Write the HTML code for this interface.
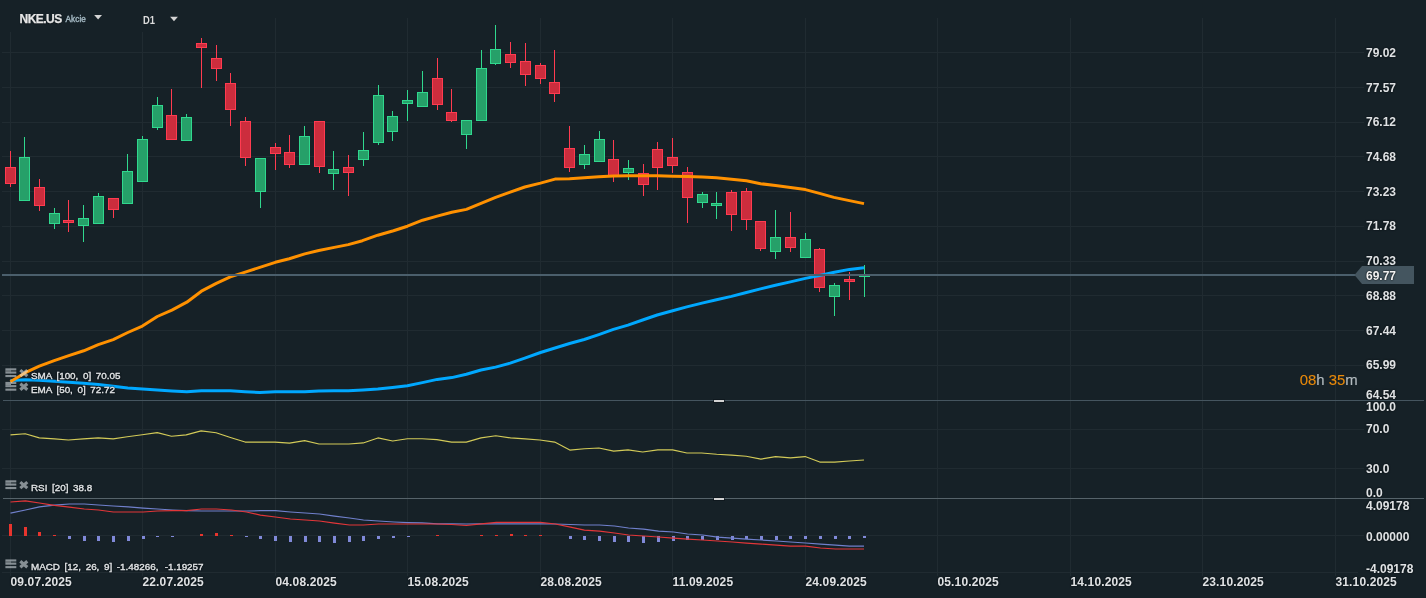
<!DOCTYPE html>
<html lang="cs"><head><meta charset="utf-8"><title>NKE.US</title><style>
html,body{margin:0;padding:0;background:#162127;}
#c{position:relative;width:1426px;height:598px;overflow:hidden;background:#162127;font-family:"Liberation Sans",sans-serif;}
.t{position:absolute;white-space:pre;color:#dfe2e4;}
.ax{font-size:12px;line-height:14px;font-weight:bold;text-shadow:0 0 2px #0c1216,0 0 1px #0c1216;}
.w{color:#f2f2f2;}
.dt{letter-spacing:0.13px;}
.lg{font-size:9.85px;line-height:12px;word-spacing:1.9px;color:#e2e5e7;text-shadow:0 0 2px #0c1216,0 0 1px #0c1216,0 0 2px #0c1216;-webkit-text-stroke:0.35px #e2e5e7;}
.sym{font-size:12px;line-height:14px;font-weight:bold;letter-spacing:-0.55px;color:#e6e6e6;-webkit-text-stroke:0.25px #e6e6e6;text-shadow:0 1px 1px #0c1216;}
.ak{font-size:8.2px;line-height:10px;color:#9db1bb;-webkit-text-stroke:0.45px #9db1bb;letter-spacing:0.05px;}
.d1{font-size:10.1px;line-height:12px;font-weight:bold;color:#dcdcdc;transform:scaleX(0.93);transform-origin:0 0;}
.tm{font-size:14.9px;line-height:16px;color:#b4bcc0;-webkit-text-stroke-width:0.12px;}
</style></head><body><div id="c">
<svg width="1426" height="598" viewBox="0 0 1426 598" style="position:absolute;left:0;top:0">
<rect width="1426" height="598" fill="#162127"/>
<g fill="#202b31" shape-rendering="crispEdges">
<rect x="10" y="32" width="1" height="544"/>
<rect x="142" y="32" width="1" height="544"/>
<rect x="275" y="18" width="1" height="558"/>
<rect x="407" y="18" width="1" height="558"/>
<rect x="540" y="18" width="1" height="558"/>
<rect x="672" y="18" width="1" height="558"/>
<rect x="805" y="18" width="1" height="558"/>
<rect x="937" y="18" width="1" height="558"/>
<rect x="1070" y="18" width="1" height="558"/>
<rect x="1202" y="18" width="1" height="558"/>
<rect x="1335" y="18" width="1" height="558"/>
<rect x="2" y="52" width="1362" height="1"/>
<rect x="2" y="87" width="1362" height="1"/>
<rect x="2" y="122" width="1362" height="1"/>
<rect x="2" y="156" width="1362" height="1"/>
<rect x="2" y="191" width="1362" height="1"/>
<rect x="2" y="226" width="1362" height="1"/>
<rect x="2" y="261" width="1362" height="1"/>
<rect x="2" y="295" width="1362" height="1"/>
<rect x="2" y="330" width="1362" height="1"/>
<rect x="2" y="365" width="1362" height="1"/>
<rect x="2" y="429" width="1362" height="1"/>
<rect x="2" y="468" width="1362" height="1"/>
<rect x="2" y="535" width="1362" height="1"/>
<rect x="2" y="572" width="1356" height="1"/>
</g>
<g shape-rendering="crispEdges">
<rect x="10" y="151" width="1" height="36" fill="#ff3b50"/>
<rect x="5" y="167" width="11" height="17" fill="#ff3b50"/>
<rect x="6" y="168" width="9" height="15" fill="#cc2d3d"/>
<rect x="24" y="137" width="1" height="64" fill="#30d88e"/>
<rect x="19" y="157" width="11" height="44" fill="#30d88e"/>
<rect x="20" y="158" width="9" height="42" fill="#26a069"/>
<rect x="39" y="179" width="1" height="32" fill="#ff3b50"/>
<rect x="34" y="187" width="11" height="19" fill="#ff3b50"/>
<rect x="35" y="188" width="9" height="17" fill="#cc2d3d"/>
<rect x="54" y="208" width="1" height="21" fill="#30d88e"/>
<rect x="49" y="213" width="11" height="11" fill="#30d88e"/>
<rect x="50" y="214" width="9" height="9" fill="#26a069"/>
<rect x="68" y="200" width="1" height="32" fill="#ff3b50"/>
<rect x="63" y="220" width="11" height="3" fill="#ff3b50"/>
<rect x="64" y="221" width="9" height="1" fill="#cc2d3d"/>
<rect x="83" y="205" width="1" height="37" fill="#30d88e"/>
<rect x="78" y="218" width="11" height="8" fill="#30d88e"/>
<rect x="79" y="219" width="9" height="6" fill="#26a069"/>
<rect x="98" y="193" width="1" height="31" fill="#30d88e"/>
<rect x="93" y="196" width="11" height="28" fill="#30d88e"/>
<rect x="94" y="197" width="9" height="26" fill="#26a069"/>
<rect x="113" y="198" width="1" height="20" fill="#ff3b50"/>
<rect x="108" y="198" width="11" height="12" fill="#ff3b50"/>
<rect x="109" y="199" width="9" height="10" fill="#cc2d3d"/>
<rect x="127" y="154" width="1" height="50" fill="#30d88e"/>
<rect x="122" y="171" width="11" height="33" fill="#30d88e"/>
<rect x="123" y="172" width="9" height="31" fill="#26a069"/>
<rect x="142" y="136" width="1" height="46" fill="#30d88e"/>
<rect x="137" y="139" width="11" height="43" fill="#30d88e"/>
<rect x="138" y="140" width="9" height="41" fill="#26a069"/>
<rect x="157" y="97" width="1" height="33" fill="#30d88e"/>
<rect x="152" y="105" width="11" height="23" fill="#30d88e"/>
<rect x="153" y="106" width="9" height="21" fill="#26a069"/>
<rect x="171" y="89" width="1" height="51" fill="#ff3b50"/>
<rect x="166" y="115" width="11" height="25" fill="#ff3b50"/>
<rect x="167" y="116" width="9" height="23" fill="#cc2d3d"/>
<rect x="186" y="114" width="1" height="27" fill="#30d88e"/>
<rect x="181" y="117" width="11" height="24" fill="#30d88e"/>
<rect x="182" y="118" width="9" height="22" fill="#26a069"/>
<rect x="201" y="38" width="1" height="50" fill="#ff3b50"/>
<rect x="196" y="43" width="11" height="5" fill="#ff3b50"/>
<rect x="197" y="44" width="9" height="3" fill="#cc2d3d"/>
<rect x="216" y="45" width="1" height="36" fill="#ff3b50"/>
<rect x="211" y="58" width="11" height="11" fill="#ff3b50"/>
<rect x="212" y="59" width="9" height="9" fill="#cc2d3d"/>
<rect x="230" y="73" width="1" height="53" fill="#ff3b50"/>
<rect x="225" y="83" width="11" height="27" fill="#ff3b50"/>
<rect x="226" y="84" width="9" height="25" fill="#cc2d3d"/>
<rect x="245" y="117" width="1" height="49" fill="#ff3b50"/>
<rect x="240" y="121" width="11" height="37" fill="#ff3b50"/>
<rect x="241" y="122" width="9" height="35" fill="#cc2d3d"/>
<rect x="260" y="158" width="1" height="50" fill="#30d88e"/>
<rect x="255" y="158" width="11" height="34" fill="#30d88e"/>
<rect x="256" y="159" width="9" height="32" fill="#26a069"/>
<rect x="275" y="143" width="1" height="27" fill="#ff3b50"/>
<rect x="270" y="147" width="11" height="7" fill="#ff3b50"/>
<rect x="271" y="148" width="9" height="5" fill="#cc2d3d"/>
<rect x="289" y="135" width="1" height="33" fill="#ff3b50"/>
<rect x="284" y="152" width="11" height="13" fill="#ff3b50"/>
<rect x="285" y="153" width="9" height="11" fill="#cc2d3d"/>
<rect x="304" y="126" width="1" height="39" fill="#30d88e"/>
<rect x="299" y="136" width="11" height="29" fill="#30d88e"/>
<rect x="300" y="137" width="9" height="27" fill="#26a069"/>
<rect x="319" y="121" width="1" height="52" fill="#ff3b50"/>
<rect x="314" y="121" width="11" height="46" fill="#ff3b50"/>
<rect x="315" y="122" width="9" height="44" fill="#cc2d3d"/>
<rect x="333" y="151" width="1" height="39" fill="#30d88e"/>
<rect x="328" y="169" width="11" height="5" fill="#30d88e"/>
<rect x="329" y="170" width="9" height="3" fill="#26a069"/>
<rect x="348" y="155" width="1" height="41" fill="#ff3b50"/>
<rect x="343" y="167" width="11" height="6" fill="#ff3b50"/>
<rect x="344" y="168" width="9" height="4" fill="#cc2d3d"/>
<rect x="363" y="132" width="1" height="34" fill="#30d88e"/>
<rect x="358" y="150" width="11" height="10" fill="#30d88e"/>
<rect x="359" y="151" width="9" height="8" fill="#26a069"/>
<rect x="378" y="85" width="1" height="60" fill="#30d88e"/>
<rect x="373" y="95" width="11" height="48" fill="#30d88e"/>
<rect x="374" y="96" width="9" height="46" fill="#26a069"/>
<rect x="392" y="111" width="1" height="30" fill="#30d88e"/>
<rect x="387" y="116" width="11" height="16" fill="#30d88e"/>
<rect x="388" y="117" width="9" height="14" fill="#26a069"/>
<rect x="407" y="90" width="1" height="31" fill="#30d88e"/>
<rect x="402" y="100" width="11" height="4" fill="#30d88e"/>
<rect x="403" y="101" width="9" height="2" fill="#26a069"/>
<rect x="422" y="71" width="1" height="36" fill="#30d88e"/>
<rect x="417" y="92" width="11" height="15" fill="#30d88e"/>
<rect x="418" y="93" width="9" height="13" fill="#26a069"/>
<rect x="437" y="58" width="1" height="52" fill="#ff3b50"/>
<rect x="432" y="78" width="11" height="27" fill="#ff3b50"/>
<rect x="433" y="79" width="9" height="25" fill="#cc2d3d"/>
<rect x="451" y="89" width="1" height="33" fill="#ff3b50"/>
<rect x="446" y="112" width="11" height="9" fill="#ff3b50"/>
<rect x="447" y="113" width="9" height="7" fill="#cc2d3d"/>
<rect x="466" y="120" width="1" height="29" fill="#30d88e"/>
<rect x="461" y="120" width="11" height="15" fill="#30d88e"/>
<rect x="462" y="121" width="9" height="13" fill="#26a069"/>
<rect x="481" y="50" width="1" height="71" fill="#30d88e"/>
<rect x="476" y="68" width="11" height="53" fill="#30d88e"/>
<rect x="477" y="69" width="9" height="51" fill="#26a069"/>
<rect x="495" y="25" width="1" height="40" fill="#30d88e"/>
<rect x="490" y="49" width="11" height="15" fill="#30d88e"/>
<rect x="491" y="50" width="9" height="13" fill="#26a069"/>
<rect x="510" y="42" width="1" height="26" fill="#ff3b50"/>
<rect x="505" y="54" width="11" height="9" fill="#ff3b50"/>
<rect x="506" y="55" width="9" height="7" fill="#cc2d3d"/>
<rect x="525" y="43" width="1" height="43" fill="#ff3b50"/>
<rect x="520" y="61" width="11" height="14" fill="#ff3b50"/>
<rect x="521" y="62" width="9" height="12" fill="#cc2d3d"/>
<rect x="540" y="63" width="1" height="21" fill="#ff3b50"/>
<rect x="535" y="65" width="11" height="14" fill="#ff3b50"/>
<rect x="536" y="66" width="9" height="12" fill="#cc2d3d"/>
<rect x="554" y="50" width="1" height="52" fill="#ff3b50"/>
<rect x="549" y="82" width="11" height="12" fill="#ff3b50"/>
<rect x="550" y="83" width="9" height="10" fill="#cc2d3d"/>
<rect x="569" y="126" width="1" height="46" fill="#ff3b50"/>
<rect x="564" y="148" width="11" height="20" fill="#ff3b50"/>
<rect x="565" y="149" width="9" height="18" fill="#cc2d3d"/>
<rect x="584" y="145" width="1" height="24" fill="#30d88e"/>
<rect x="579" y="154" width="11" height="11" fill="#30d88e"/>
<rect x="580" y="155" width="9" height="9" fill="#26a069"/>
<rect x="599" y="131" width="1" height="31" fill="#30d88e"/>
<rect x="594" y="139" width="11" height="23" fill="#30d88e"/>
<rect x="595" y="140" width="9" height="21" fill="#26a069"/>
<rect x="613" y="140" width="1" height="42" fill="#ff3b50"/>
<rect x="608" y="159" width="11" height="17" fill="#ff3b50"/>
<rect x="609" y="160" width="9" height="15" fill="#cc2d3d"/>
<rect x="628" y="160" width="1" height="20" fill="#30d88e"/>
<rect x="623" y="168" width="11" height="5" fill="#30d88e"/>
<rect x="624" y="169" width="9" height="3" fill="#26a069"/>
<rect x="643" y="164" width="1" height="32" fill="#ff3b50"/>
<rect x="638" y="173" width="11" height="12" fill="#ff3b50"/>
<rect x="639" y="174" width="9" height="10" fill="#cc2d3d"/>
<rect x="657" y="142" width="1" height="48" fill="#ff3b50"/>
<rect x="652" y="149" width="11" height="19" fill="#ff3b50"/>
<rect x="653" y="150" width="9" height="17" fill="#cc2d3d"/>
<rect x="672" y="138" width="1" height="35" fill="#ff3b50"/>
<rect x="667" y="157" width="11" height="9" fill="#ff3b50"/>
<rect x="668" y="158" width="9" height="7" fill="#cc2d3d"/>
<rect x="687" y="167" width="1" height="56" fill="#ff3b50"/>
<rect x="682" y="172" width="11" height="26" fill="#ff3b50"/>
<rect x="683" y="173" width="9" height="24" fill="#cc2d3d"/>
<rect x="702" y="192" width="1" height="16" fill="#30d88e"/>
<rect x="697" y="194" width="11" height="9" fill="#30d88e"/>
<rect x="698" y="195" width="9" height="7" fill="#26a069"/>
<rect x="716" y="192" width="1" height="27" fill="#30d88e"/>
<rect x="711" y="203" width="11" height="3" fill="#30d88e"/>
<rect x="712" y="204" width="9" height="1" fill="#26a069"/>
<rect x="731" y="190" width="1" height="41" fill="#ff3b50"/>
<rect x="726" y="192" width="11" height="23" fill="#ff3b50"/>
<rect x="727" y="193" width="9" height="21" fill="#cc2d3d"/>
<rect x="746" y="188" width="1" height="42" fill="#ff3b50"/>
<rect x="741" y="191" width="11" height="29" fill="#ff3b50"/>
<rect x="742" y="192" width="9" height="27" fill="#cc2d3d"/>
<rect x="760" y="221" width="1" height="30" fill="#ff3b50"/>
<rect x="755" y="221" width="11" height="28" fill="#ff3b50"/>
<rect x="756" y="222" width="9" height="26" fill="#cc2d3d"/>
<rect x="775" y="210" width="1" height="49" fill="#30d88e"/>
<rect x="770" y="237" width="11" height="15" fill="#30d88e"/>
<rect x="771" y="238" width="9" height="13" fill="#26a069"/>
<rect x="790" y="212" width="1" height="40" fill="#ff3b50"/>
<rect x="785" y="237" width="11" height="11" fill="#ff3b50"/>
<rect x="786" y="238" width="9" height="9" fill="#cc2d3d"/>
<rect x="805" y="233" width="1" height="25" fill="#30d88e"/>
<rect x="800" y="239" width="11" height="19" fill="#30d88e"/>
<rect x="801" y="240" width="9" height="17" fill="#26a069"/>
<rect x="819" y="248" width="1" height="44" fill="#ff3b50"/>
<rect x="814" y="249" width="11" height="39" fill="#ff3b50"/>
<rect x="815" y="250" width="9" height="37" fill="#cc2d3d"/>
<rect x="834" y="283" width="1" height="33" fill="#30d88e"/>
<rect x="829" y="285" width="11" height="12" fill="#30d88e"/>
<rect x="830" y="286" width="9" height="10" fill="#26a069"/>
<rect x="849" y="272" width="1" height="28" fill="#ff3b50"/>
<rect x="844" y="279" width="11" height="3" fill="#ff3b50"/>
<rect x="845" y="280" width="9" height="1" fill="#cc2d3d"/>
<rect x="864" y="265" width="1" height="32" fill="#30d88e"/>
<rect x="859" y="276" width="11" height="1" fill="#30d88e"/>
</g>
<polyline points="10.4,380.6 25.3,379.8 39.3,380.3 54.0,381.2 68.8,382.2 83.5,383.3 98.3,384.5 113.0,386.3 127.8,388.1 142.5,389.1 157.3,390.1 172.0,391.0 186.8,391.8 201.4,390.8 216.0,390.8 230.3,390.8 245.0,391.7 259.8,392.6 275.3,391.8 290.0,391.8 304.8,391.7 318.8,391.0 333.5,390.8 348.3,390.7 363.0,389.9 377.8,388.9 392.5,387.4 407.4,385.7 422.4,382.6 437.2,379.4 451.8,377.6 466.4,374.3 481.0,370.0 495.6,367.1 510.2,363.1 524.8,358.1 540.5,352.5 555.0,348.0 569.6,343.5 584.2,339.5 598.8,334.6 613.4,329.4 628.0,325.1 642.6,320.0 657.2,315.0 671.7,311.0 686.8,306.9 702.0,303.1 716.5,299.7 731.4,296.4 746.4,292.5 760.5,288.9 775.4,285.3 790.4,281.9 805.4,278.4 819.5,275.5 834.4,272.2 849.4,269.4 864.0,267.7" fill="none" stroke="#00a8ff" stroke-width="3" stroke-linejoin="round"/>
<polyline points="10.4,381.7 25.3,372.7 39.3,366.2 54.2,360.6 68.8,355.6 83.7,350.8 98.3,344.6 113.2,339.6 127.8,332.5 142.4,326.1 157.3,316.5 171.9,310.1 186.8,302.2 201.4,291.2 216.3,283.4 230.3,276.9 245.2,272.1 259.8,267.4 275.3,262.3 289.3,258.7 304.8,253.9 318.8,250.5 334.3,247.4 348.3,244.6 362.4,240.7 377.8,235.2 393.5,230.7 407.4,226.2 422.6,220.2 437.2,216.1 451.8,212.3 466.4,209.4 481.0,203.3 495.6,197.3 510.2,192.1 524.8,187.0 540.5,183.1 555.0,179.1 569.6,178.8 584.2,177.7 598.8,176.8 613.4,175.9 628.0,175.7 642.6,175.7 657.5,175.8 672.5,176.2 687.5,176.6 702.4,177.1 716.5,177.8 731.5,179.2 746.4,180.8 760.6,183.7 775.5,185.6 790.5,187.6 805.4,189.6 819.5,193.4 833.9,197.4 849.4,200.6 864.0,203.6" fill="none" stroke="#ff9100" stroke-width="3" stroke-linejoin="round"/>
<rect x="2" y="274" width="1357" height="2" fill="#4b5f6c" shape-rendering="crispEdges"/>
<path d="M1354.5 275 L1362 266 H1414 V284 H1362 Z" fill="#44555f"/>
<g shape-rendering="crispEdges">
<rect x="3" y="400" width="1421" height="1" fill="#45555f"/>
<rect x="3" y="498" width="1421" height="1" fill="#56636a"/>
<rect x="713" y="399" width="12" height="4" fill="#0b1318" opacity="0.55"/>
<rect x="714" y="400" width="10" height="2" fill="#d3d3d3"/>
<rect x="713" y="497" width="12" height="4" fill="#0b1318" opacity="0.55"/>
<rect x="714" y="498" width="10" height="2" fill="#d3d3d3"/>
</g>
<polyline points="10.5,434.9 25.2,433.7 39.3,437.9 54.5,438.9 68.4,440.0 83.3,438.9 98.2,437.9 113.2,438.9 127.3,436.8 142.2,434.7 157.2,432.6 171.5,436.2 186.2,434.9 201.1,430.9 216.1,432.8 230.4,437.4 245.1,442.1 260.0,442.1 275.0,442.1 289.5,443.1 304.7,440.6 319.0,444.0 334.2,444.0 348.9,444.0 363.2,442.9 377.9,437.9 392.7,441.0 407.4,438.7 422.1,438.7 436.8,439.6 451.6,442.1 466.3,442.1 481.0,437.9 495.8,435.8 510.5,437.9 525.2,438.9 539.9,440.0 554.7,442.1 569.8,450.1 584.4,448.8 598.9,448.0 613.7,451.1 628.0,449.9 642.7,452.0 657.8,449.9 672.6,449.9 686.9,453.0 701.6,453.0 716.7,454.3 731.5,455.1 746.2,456.2 760.9,459.1 775.6,456.6 790.4,457.9 805.1,456.6 819.8,462.1 834.6,462.1 849.3,461.0 864.0,460.0" fill="none" stroke="#d2ca58" stroke-width="1.1" stroke-linejoin="round"/>
<g shape-rendering="crispEdges">
<rect x="9" y="524" width="3" height="12" fill="#e8352e"/>
<rect x="24" y="527" width="3" height="9" fill="#e8352e"/>
<rect x="38" y="532" width="3" height="4" fill="#e8352e"/>
<rect x="53" y="535" width="3" height="1" fill="#e8352e"/>
<rect x="68" y="536" width="3" height="3" fill="#8089d8"/>
<rect x="83" y="536" width="3" height="5" fill="#8089d8"/>
<rect x="97" y="536" width="3" height="5" fill="#8089d8"/>
<rect x="112" y="536" width="3" height="6" fill="#8089d8"/>
<rect x="127" y="536" width="3" height="5" fill="#8089d8"/>
<rect x="142" y="536" width="3" height="3" fill="#8089d8"/>
<rect x="156" y="536" width="3" height="1" fill="#8089d8"/>
<rect x="171" y="536" width="3" height="1" fill="#8089d8"/>
<rect x="200" y="534" width="3" height="2" fill="#e8352e"/>
<rect x="215" y="533" width="3" height="3" fill="#e8352e"/>
<rect x="230" y="535" width="3" height="1" fill="#e8352e"/>
<rect x="245" y="536" width="3" height="1" fill="#8089d8"/>
<rect x="259" y="536" width="3" height="3" fill="#8089d8"/>
<rect x="274" y="536" width="3" height="5" fill="#8089d8"/>
<rect x="289" y="536" width="3" height="6" fill="#8089d8"/>
<rect x="304" y="536" width="3" height="6" fill="#8089d8"/>
<rect x="318" y="536" width="3" height="6" fill="#8089d8"/>
<rect x="333" y="536" width="3" height="7" fill="#8089d8"/>
<rect x="348" y="536" width="3" height="6" fill="#8089d8"/>
<rect x="362" y="536" width="3" height="5" fill="#8089d8"/>
<rect x="377" y="536" width="3" height="3" fill="#8089d8"/>
<rect x="392" y="536" width="3" height="2" fill="#8089d8"/>
<rect x="407" y="536" width="3" height="1" fill="#8089d8"/>
<rect x="436" y="535" width="3" height="1" fill="#e8352e"/>
<rect x="480" y="535" width="3" height="1" fill="#e8352e"/>
<rect x="495" y="535" width="3" height="1" fill="#e8352e"/>
<rect x="510" y="534" width="3" height="2" fill="#e8352e"/>
<rect x="524" y="535" width="3" height="1" fill="#e8352e"/>
<rect x="539" y="535" width="3" height="1" fill="#e8352e"/>
<rect x="569" y="536" width="3" height="3" fill="#8089d8"/>
<rect x="583" y="536" width="3" height="4" fill="#8089d8"/>
<rect x="598" y="536" width="3" height="5" fill="#8089d8"/>
<rect x="613" y="536" width="3" height="6" fill="#8089d8"/>
<rect x="627" y="536" width="3" height="6" fill="#8089d8"/>
<rect x="642" y="536" width="3" height="7" fill="#8089d8"/>
<rect x="657" y="536" width="3" height="6" fill="#8089d8"/>
<rect x="672" y="536" width="3" height="5" fill="#8089d8"/>
<rect x="686" y="536" width="3" height="4" fill="#8089d8"/>
<rect x="701" y="536" width="3" height="4" fill="#8089d8"/>
<rect x="716" y="536" width="3" height="4" fill="#8089d8"/>
<rect x="731" y="536" width="3" height="4" fill="#8089d8"/>
<rect x="745" y="536" width="3" height="3" fill="#8089d8"/>
<rect x="760" y="536" width="3" height="4" fill="#8089d8"/>
<rect x="775" y="536" width="3" height="4" fill="#8089d8"/>
<rect x="789" y="536" width="3" height="3" fill="#8089d8"/>
<rect x="804" y="536" width="3" height="3" fill="#8089d8"/>
<rect x="819" y="536" width="3" height="3" fill="#8089d8"/>
<rect x="834" y="536" width="3" height="3" fill="#8089d8"/>
<rect x="848" y="536" width="3" height="3" fill="#8089d8"/>
<rect x="863" y="536" width="3" height="2" fill="#8089d8"/>
</g>
<polyline points="10.5,513.1 25.4,510.0 39.4,506.9 54.4,505.1 69.4,504.0 84.3,504.0 98.5,505.0 113.3,506.0 128.3,506.9 143.3,508.1 157.4,509.0 172.5,510.0 186.5,510.7 201.5,511.0 216.4,511.0 231.4,511.0 246.4,511.0 260.4,510.7 275.4,510.7 290.4,512.0 305.4,513.0 319.5,514.0 334.5,516.1 349.5,518.0 363.5,520.0 378.5,521.0 394.0,522.0 408.0,522.6 422.0,522.9 437.5,523.8 452.0,523.9 466.3,524.0 481.0,523.9 496.4,523.8 511.0,523.8 525.0,523.8 540.4,523.8 555.3,524.0 570.5,524.5 584.4,525.0 599.5,525.0 614.5,526.0 628.5,528.0 643.5,529.1 658.5,531.1 673.5,532.0 687.5,534.0 702.5,535.0 717.5,537.1 732.4,538.1 746.4,539.1 761.4,540.0 776.4,541.0 790.4,542.0 805.5,543.0 820.5,544.1 835.5,545.1 849.5,546.1 864.0,546.1" fill="none" stroke="#7080cc" stroke-width="1.2" stroke-linejoin="round"/>
<polyline points="10.5,502.0 25.4,500.9 39.4,503.0 54.4,505.3 69.4,507.2 84.3,509.0 98.5,510.0 113.3,512.0 128.3,512.0 143.3,512.0 157.4,511.0 172.5,510.7 186.5,510.7 201.5,509.0 216.4,509.0 231.4,510.0 246.4,512.0 260.4,515.1 275.4,517.0 290.4,519.0 305.4,520.0 319.5,521.0 334.5,523.1 349.5,525.0 363.5,525.0 378.5,524.0 393.5,524.0 408.0,524.0 423.0,524.0 437.5,524.0 451.5,524.5 466.3,525.5 481.4,523.8 496.4,522.4 511.4,522.4 525.4,522.4 540.4,522.4 555.3,524.0 570.5,527.1 584.4,530.1 599.5,531.1 614.5,533.0 628.5,535.0 643.5,536.0 658.5,537.0 673.5,538.1 687.5,539.1 702.5,540.0 717.5,541.0 732.4,542.0 746.4,543.1 761.4,544.1 776.4,545.1 790.4,546.1 805.5,546.1 820.5,548.0 835.5,549.0 849.5,549.0 864.0,549.0" fill="none" stroke="#e23639" stroke-width="1.2" stroke-linejoin="round"/>
<g fill="#e3e9ee" opacity="0.55"><rect x="5.4" y="368.3" width="10.9" height="2.1"/><rect x="5.4" y="371.5" width="10.9" height="2.1"/><rect x="5.4" y="370.4" width="5.6" height="1.1"/><rect x="5.4" y="375.0" width="10.9" height="2.1"/></g><g stroke="#e3e9ee" stroke-width="3.1" stroke-linecap="butt" opacity="0.55"><path d="M20.3 370.1 L27.3 376.1 M27.3 370.1 L20.3 376.1"/></g>
<g fill="#e3e9ee" opacity="0.55"><rect x="5.4" y="381.9" width="10.9" height="2.1"/><rect x="5.4" y="385.1" width="10.9" height="2.1"/><rect x="5.4" y="384.0" width="5.6" height="1.1"/><rect x="5.4" y="388.6" width="10.9" height="2.1"/></g><g stroke="#e3e9ee" stroke-width="3.1" stroke-linecap="butt" opacity="0.55"><path d="M20.3 383.7 L27.3 389.7 M27.3 383.7 L20.3 389.7"/></g>
<g fill="#e3e9ee" opacity="0.55"><rect x="5.4" y="480.3" width="10.9" height="2.1"/><rect x="5.4" y="483.5" width="10.9" height="2.1"/><rect x="5.4" y="482.4" width="5.6" height="1.1"/><rect x="5.4" y="487.0" width="10.9" height="2.1"/></g><g stroke="#e3e9ee" stroke-width="3.1" stroke-linecap="butt" opacity="0.55"><path d="M20.3 482.1 L27.3 488.1 M27.3 482.1 L20.3 488.1"/></g>
<g fill="#e3e9ee" opacity="0.55"><rect x="5.4" y="559.4" width="10.9" height="2.1"/><rect x="5.4" y="562.6" width="10.9" height="2.1"/><rect x="5.4" y="561.5" width="5.6" height="1.1"/><rect x="5.4" y="566.1" width="10.9" height="2.1"/></g><g stroke="#e3e9ee" stroke-width="3.1" stroke-linecap="butt" opacity="0.55"><path d="M20.3 561.2 L27.3 567.2 M27.3 561.2 L20.3 567.2"/></g>
<path d="M94.2 15 H102 L98.1 19.4 Z" fill="#d4d4d4"/>
<path d="M170.1 16.8 H177.9 L174 21.3 Z" fill="#d4d4d4"/>
</svg>
<span class="t ax" style="left:1366.0px;top:46.2px;">79.02</span>
<span class="t ax" style="left:1366.0px;top:80.6px;">77.57</span>
<span class="t ax" style="left:1366.0px;top:115.2px;">76.12</span>
<span class="t ax" style="left:1366.0px;top:150.2px;">74.68</span>
<span class="t ax" style="left:1366.0px;top:185.2px;">73.23</span>
<span class="t ax" style="left:1366.0px;top:219.3px;">71.78</span>
<span class="t ax" style="left:1366.0px;top:254.0px;">70.33</span>
<span class="t ax" style="left:1366.0px;top:289.0px;">68.88</span>
<span class="t ax" style="left:1366.0px;top:324.1px;">67.44</span>
<span class="t ax" style="left:1366.0px;top:358.0px;">65.99</span>
<span class="t ax" style="left:1366.0px;top:387.8px;">64.54</span>
<span class="t ax w" style="left:1366.0px;top:268.6px;">69.77</span>
<span class="t ax" style="left:1366.0px;top:399.8px;">100.0</span>
<span class="t ax" style="left:1366.0px;top:422.0px;">70.0</span>
<span class="t ax" style="left:1366.0px;top:462.1px;">30.0</span>
<span class="t ax" style="left:1366.0px;top:485.9px;">0.0</span>
<span class="t ax" style="left:1366.0px;top:499.2px;">4.09178</span>
<span class="t ax" style="left:1366.0px;top:529.8px;">0.00000</span>
<span class="t ax" style="left:1366.0px;top:561.8px;">-4.09178</span>
<span class="t ax dt" style="left:10.5px;top:574.8px;">09.07.2025</span>
<span class="t ax dt" style="left:142.5px;top:574.8px;">22.07.2025</span>
<span class="t ax dt" style="left:275.5px;top:574.8px;">04.08.2025</span>
<span class="t ax dt" style="left:407.5px;top:574.8px;">15.08.2025</span>
<span class="t ax dt" style="left:540.5px;top:574.8px;">28.08.2025</span>
<span class="t ax dt" style="left:672.5px;top:574.8px;">11.09.2025</span>
<span class="t ax dt" style="left:805.5px;top:574.8px;">24.09.2025</span>
<span class="t ax dt" style="left:937.5px;top:574.8px;">05.10.2025</span>
<span class="t ax dt" style="left:1070.5px;top:574.8px;">14.10.2025</span>
<span class="t ax dt" style="left:1202.5px;top:574.8px;">23.10.2025</span>
<span class="t ax dt" style="left:1335.5px;top:574.8px;">31.10.2025</span>
<span class="t lg" style="left:31.0px;top:369.9px;">SMA [100, 0] 70.05</span>
<span class="t lg" style="left:31.0px;top:383.6px;">EMA [50, 0] 72.72</span>
<span class="t lg" style="left:31.0px;top:481.9px;">RSI [20] 38.8</span>
<span class="t lg" style="left:31.0px;top:561.0px;">MACD [12, 26, 9] -1.48266, <span style="margin-left:1.6px">-1.19257</span></span>
<span class="t sym" style="left:19.6px;top:11.9px;">NKE.US</span>
<span class="t ak" style="left:65.6px;top:15.0px;">Akcie</span>
<span class="t d1" style="left:143.0px;top:14.6px;">D1</span>
<span class="t tm" style="left:1299.7px;top:371.6px;"><span style="color:#e8890a">08</span>h <span style="color:#e8890a">35</span>m</span>
</div></body></html>
